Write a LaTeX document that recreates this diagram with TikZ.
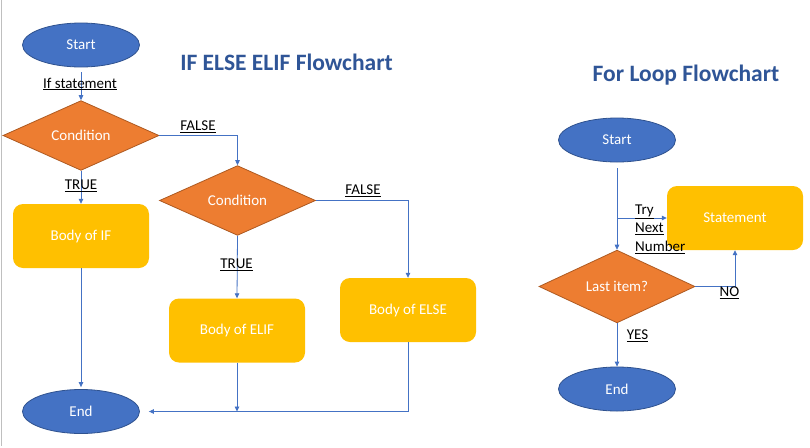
\documentclass[tikz,border=0pt]{standalone}
\usepackage{fontspec}
\setmainfont{Carlito}
\usetikzlibrary{shapes.geometric,arrows.meta}
\definecolor{eblue}{HTML}{4472C4}
\definecolor{eblueb}{HTML}{2F528F}
\definecolor{dorange}{HTML}{ED7D31}
\definecolor{dorangeb}{HTML}{AE5A21}
\definecolor{bgold}{HTML}{FFC000}
\definecolor{ttl}{HTML}{2F5597}
\tikzset{
  term/.style={ellipse, fill=eblue, draw=eblueb, line width=0.8pt, minimum width=117pt, minimum height=44pt, inner sep=0pt, text=white, font=\fontsize{15}{18}\selectfont},
  cond/.style={diamond, fill=dorange, draw=dorangeb, line width=0.8pt, minimum width=156pt, minimum height=65pt, inner sep=0pt, text=white, font=\fontsize{15}{18}\selectfont},
  body/.style={rectangle, rounded corners=10pt, fill=bgold, minimum width=136pt, minimum height=64pt, inner sep=0pt, text=white, font=\fontsize{15}{18}\selectfont},
  conn/.style={draw=eblue, line width=0.8pt, -{Triangle[length=5pt,width=4.5pt]}},
  lbl/.style={font=\fontsize{15}{18.5}\selectfont, text=black, inner sep=0pt},
  ttlstyle/.style={font=\bfseries\fontsize{23.5}{28}\selectfont, text=ttl, inner sep=0pt}
}
\begin{document}
\begin{tikzpicture}[x=1pt,y=-1pt]
\useasboundingbox (0,0) rectangle (810,447);
\fill[white] (0,0) rectangle (810,447);
\draw[gray!50, line width=1pt] (1,0) -- (1,446);

\node[ttlstyle] (t1) at (286.5,62) {IF ELSE ELIF Flowchart};
\node[ttlstyle] (t2) at (686,75) {For Loop Flowchart};

% left chart
\node[term] (s1) at (81,45) {Start};
\node[cond] (d1) at (81,135.5) {Condition};
\node[cond] (d2) at (237.5,200.5) {Condition};
\node[body] (bif) at (81,236) {Body of IF};
\node[body] (belif) at (237,330.5) {Body of ELIF};
\node[body] (belse) at (408,310) {Body of ELSE};
\node[term] (e1) at (81,411.5) {End};
\coordinate (j1) at ([xshift=9pt]e1.east);

\draw[conn, shorten <=5pt] (s1.south) -- (d1.north);
\draw[conn] (d1.east) -| (d2.north);
\draw[conn] (d1.south) -- (bif.north);
\draw[conn] (d2.south) -- (belif.north);
\draw[conn] (d2.east) -| (belse.north);
\draw[conn, shorten >=2pt] (bif.south) -- (e1.north);
\draw[conn] (belif.south) -- (belif.south |- e1.center);
\draw[conn] (belse.south) |- (j1);

\node[lbl] (l1) at (80,84) {\underline{If statement}};
\node[lbl] (l2) at (198,127) {\underline{FALSE}};
\node[lbl] (l3) at (81,186) {\underline{TRUE}};
\node[lbl] (l4) at (363,191) {\underline{FALSE}};
\node[lbl] (l5) at (236.5,265) {\underline{TRUE}};

% right chart
\node[term] (s2) at (617,140) {Start};
\node[body] (st) at (735,218) {Statement};
\node[cond] (d3) at (617,286.5) {Last item?};
\node[term] (e2) at (617,389) {End};
\coordinate (br) at (s2.south |- st.west);

\draw[conn, shorten <=6pt] (s2.south) -- (d3.north);
\draw[conn] (br) -- (st.west);
\draw[conn] (d3.east) -| (st.south);
\draw[conn] (d3.south) -- (e2.north);

\node[lbl, anchor=west, align=left] (l6) at (635,229) {\underline{Try}\\\underline{Next}\\\underline{Number}};
\node[lbl] (l7) at (729.5,293) {\underline{NO}};
\node[lbl] (l8) at (637.5,336) {\underline{YES}};
\end{tikzpicture}
\end{document}
